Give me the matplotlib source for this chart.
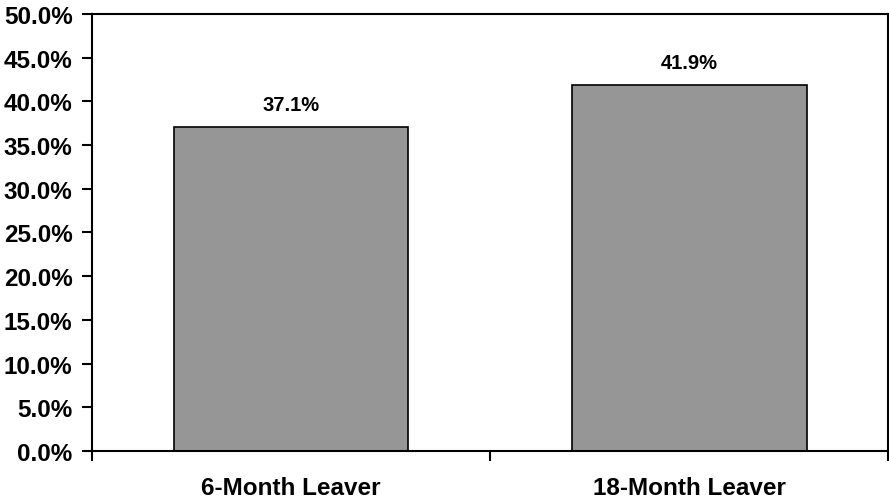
import matplotlib
matplotlib.use("Agg")
import matplotlib.pyplot as plt
from matplotlib.ticker import FuncFormatter, MultipleLocator

plt.rcParams['font.family'] = ['Liberation Sans', 'DejaVu Sans']
plt.rcParams['font.weight'] = 'bold'

categories = ['6-Month Leaver', '18-Month Leaver']
values = [37.1, 41.9]
value_labels = ['37.1%', '41.9%']

fig = plt.figure(figsize=(8.89, 5.02), dpi=100)
ax = fig.add_axes([0.1035, 0.0996, 0.8955, 0.8706])

x = range(len(categories))
bars = ax.bar(x, values, width=0.59, color='#969696', edgecolor='black', linewidth=1.2)

for rect, lab in zip(bars, value_labels):
    ax.annotate(lab, (rect.get_x() + rect.get_width() / 2, rect.get_height()),
                xytext=(0, 9), textcoords='offset points', ha='center', va='bottom',
                fontsize=14.5, fontweight='bold')

ax.set_xlim(-0.5, len(categories) - 0.5)
ax.set_ylim(0, 50)
ax.yaxis.set_major_locator(MultipleLocator(5))
ax.yaxis.set_major_formatter(FuncFormatter(lambda v, _: f'{v:.1f}%'))

# category labels sit between boundary ticks
ax.set_xticks([-0.5, 0.5, 1.5])
ax.set_xticklabels([])
ax.set_xticks(list(x), minor=True)
ax.set_xticklabels(categories, minor=True, fontsize=17.5, fontweight='bold')
ax.tick_params(axis='x', which='minor', length=0, pad=18)
ax.tick_params(axis='x', which='major', length=7, width=1.5, direction='out')
ax.tick_params(axis='y', length=7, width=1.5, direction='out', labelsize=17.5, pad=7)

for sp in ax.spines.values():
    sp.set_linewidth(1.5)

fig.savefig('out.png', dpi=100)
